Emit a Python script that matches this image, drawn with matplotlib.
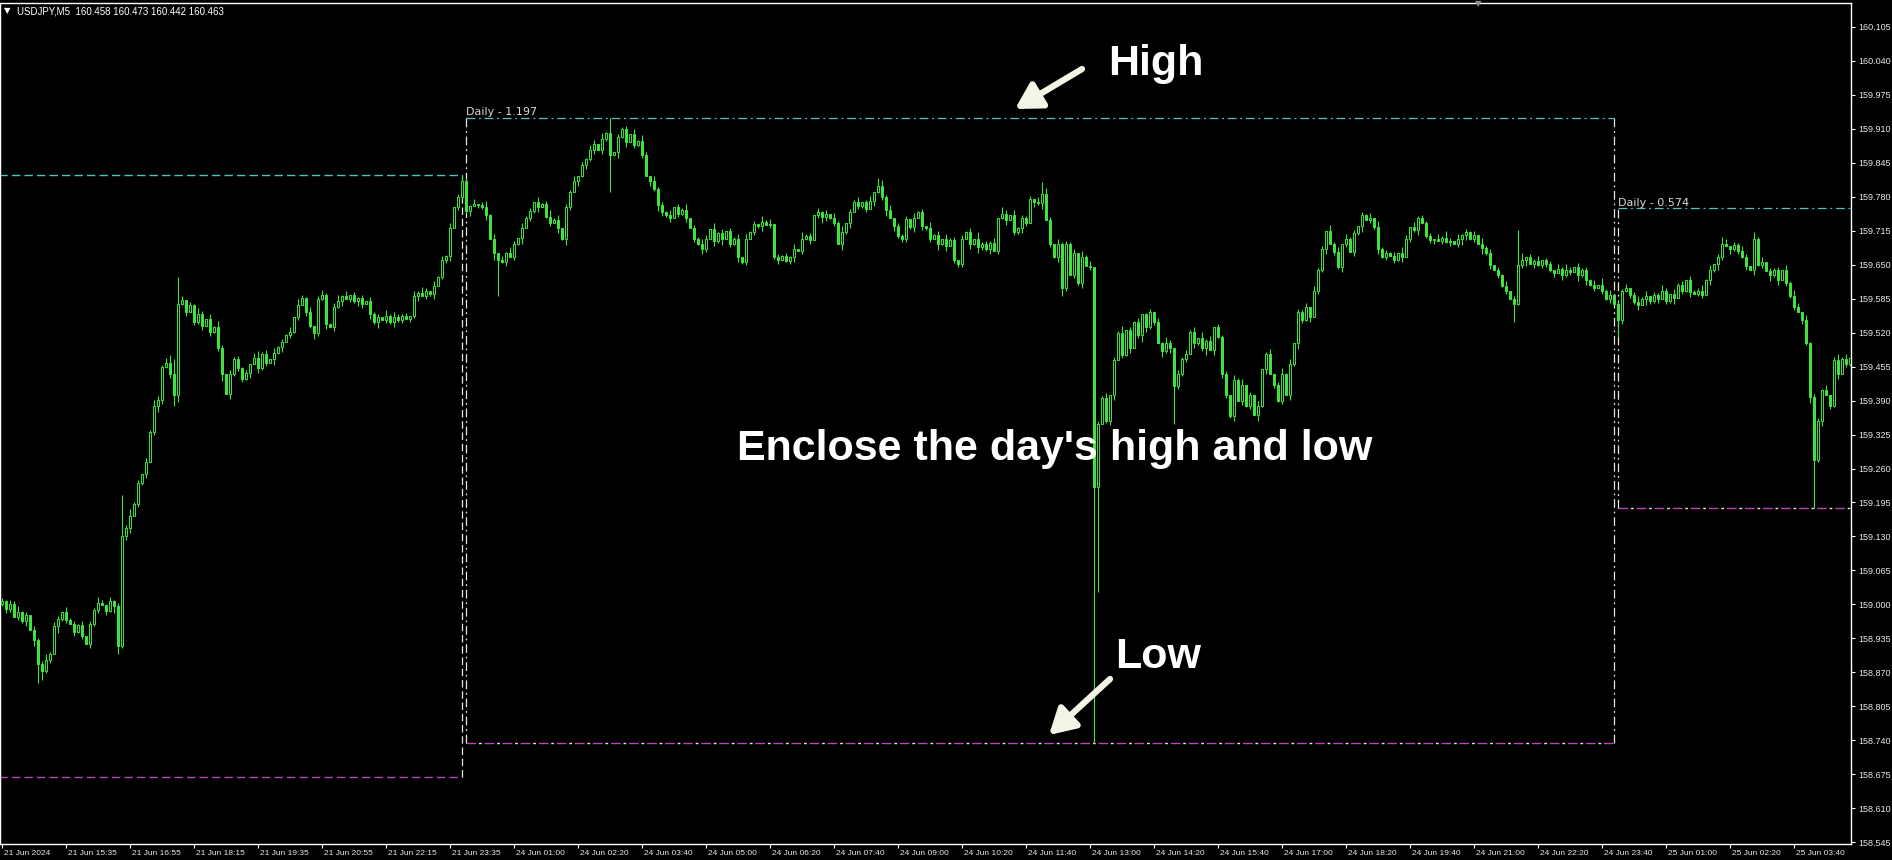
import numpy as np
import matplotlib
matplotlib.use("Agg")
import matplotlib.pyplot as plt
from matplotlib.transforms import ScaledTranslation

# 5-minute USDJPY closes (one value per bar)
close_21 = [
    159.006, 158.992, 159.000, 158.976, 158.985, 158.968, 158.980, 158.950, 158.932, 158.885,
    158.872, 158.893, 158.905, 158.958, 158.972, 158.986, 158.970, 158.962, 158.948, 158.960,
    158.940, 158.925, 158.962, 158.990, 159.002, 158.998, 158.988, 159.006, 158.996, 158.920,
    159.130, 159.146, 159.170, 159.192, 159.232, 159.250, 159.272, 159.330, 159.380, 159.392,
    159.455, 159.462, 159.440, 159.400, 159.575, 159.582, 159.560, 159.572, 159.540, 159.556,
    159.532, 159.546, 159.522, 159.530, 159.490, 159.440, 159.402, 159.440, 159.470, 159.452,
    159.432, 159.442, 159.460, 159.472, 159.452, 159.480, 159.462, 159.470, 159.482, 159.492,
    159.502, 159.515, 159.522, 159.550, 159.572, 159.586, 159.560, 159.532, 159.520, 159.585,
    159.592, 159.536, 159.530, 159.570, 159.580, 159.590, 159.584, 159.592, 159.580, 159.586,
    159.574, 159.580, 159.556, 159.540, 159.550, 159.545, 159.552, 159.540, 159.550, 159.544,
    159.552, 159.546, 159.552, 159.590, 159.596, 159.590, 159.600, 159.594, 159.610, 159.626,
    159.660, 159.666, 159.720, 159.760, 159.780, 159.810]
close_24 = [
    159.752, 159.762, 159.766, 159.764, 159.760, 159.745, 159.700, 159.672, 159.660, 159.656,
    159.672, 159.665, 159.690, 159.702, 159.720, 159.740, 159.752, 159.770, 159.760, 159.766,
    159.742, 159.730, 159.736, 159.720, 159.700, 159.760, 159.790, 159.810, 159.820, 159.840,
    159.852, 159.870, 159.882, 159.870, 159.890, 159.902, 159.860, 159.866, 159.895, 159.910,
    159.885, 159.900, 159.880, 159.886, 159.860, 159.820, 159.810, 159.795, 159.765, 159.750,
    159.745, 159.740, 159.760, 159.748, 159.755, 159.740, 159.720, 159.700, 159.690, 159.680,
    159.700, 159.718, 159.695, 159.710, 159.700, 159.715, 159.690, 159.700, 159.665, 159.655,
    159.700, 159.712, 159.728, 159.724, 159.732, 159.726, 159.728, 159.664, 159.660, 159.666,
    159.658, 159.664, 159.680, 159.676, 159.700, 159.705, 159.698, 159.745, 159.750, 159.742,
    159.748, 159.740, 159.730, 159.690, 159.712, 159.730, 159.750, 159.770, 159.762, 159.770,
    159.756, 159.772, 159.790, 159.800, 159.780, 159.755, 159.740, 159.724, 159.705, 159.700,
    159.738, 159.722, 159.740, 159.750, 159.725, 159.720, 159.700, 159.706, 159.690, 159.700,
    159.686, 159.698, 159.660, 159.652, 159.700, 159.712, 159.690, 159.700, 159.684, 159.690,
    159.680, 159.692, 159.676, 159.740, 159.748, 159.735, 159.745, 159.712, 159.720, 159.740,
    159.730, 159.775, 159.770, 159.768, 159.785, 159.735, 159.690, 159.665, 159.690, 159.605,
    159.690, 159.630, 159.672, 159.615, 159.665, 159.648, 159.645, 159.225, 159.345, 159.395,
    159.350, 159.400, 159.468, 159.520, 159.478, 159.525, 159.490, 159.540, 159.515, 159.555,
    159.530, 159.560, 159.540, 159.500, 159.485, 159.500, 159.490, 159.418, 159.440, 159.470,
    159.480, 159.522, 159.500, 159.510, 159.490, 159.505, 159.486, 159.530, 159.512, 159.440,
    159.400, 159.360, 159.430, 159.390, 159.420, 159.380, 159.400, 159.362, 159.380, 159.450,
    159.480, 159.440, 159.420, 159.390, 159.440, 159.400, 159.460, 159.500, 159.560, 159.545,
    159.570, 159.550, 159.600, 159.640, 159.680, 159.715, 159.690, 159.675, 159.645, 159.690,
    159.700, 159.675, 159.710, 159.725, 159.745, 159.735, 159.740, 159.722, 159.680, 159.665,
    159.672, 159.666, 159.660, 159.672, 159.664, 159.700, 159.722, 159.716, 159.740, 159.730,
    159.705, 159.698, 159.700, 159.695, 159.702, 159.694, 159.696, 159.690, 159.700, 159.706,
    159.712, 159.700, 159.706, 159.690, 159.682, 159.672, 159.650, 159.640, 159.630, 159.610,
    159.600, 159.585, 159.575, 159.650, 159.660, 159.664, 159.652, 159.658, 159.650, 159.660,
    159.652, 159.640, 159.635, 159.642, 159.630, 159.640, 159.636, 159.645, 159.630, 159.640,
    159.620, 159.612, 159.605, 159.612, 159.600, 159.585, 159.592, 159.575]
close_25 = [
    159.545, 159.600, 159.605, 159.592, 159.578, 159.572, 159.585, 159.590, 159.580, 159.592,
    159.585, 159.600, 159.580, 159.594, 159.586, 159.612, 159.600, 159.620, 159.598, 159.594,
    159.600, 159.592, 159.620, 159.640, 159.652, 159.665, 159.690, 159.685, 159.680, 159.688,
    159.676, 159.665, 159.648, 159.640, 159.700, 159.650, 159.655, 159.638, 159.630, 159.640,
    159.620, 159.640, 159.615, 159.590, 159.570, 159.560, 159.545, 159.500, 159.397, 159.276,
    159.350, 159.410, 159.400, 159.380, 159.468, 159.440, 159.470, 159.460, 159.472]
first_open = 159.000

# wick lengths per bar, in steps of 0.003
wick_up = ("2132412031 2413203121 3021420312 3241203142 1352130214 2031420312 1203412031 "
           "2130421302 3102413021 2031204132 1203142031 213024"
           "2130241302 1420312031 2413021302 1320413021 2031420312 1302140213 2041302130 "
           "3120413021 2130412031 2031402130 1302413021 2031204130 3120213041 2130420312 "
           "1203142031 2130413021 3021402130 1203142031 2130413021 2031402130 1302413021 "
           "2031204130 3120213041 2130420312 1203142031 2130413021 3021402130 1203142031 21304130"
           "2130241302 1420312031 2413021302 1320413021 2031420312 213024130")
wick_dn = ("1320213042 3120412031 2031203140 1230213024 3120413021 2031240312 2130312041 "
           "3021203142 1302130213 2031402131 2021302130 123021"
           "1302130421 3021402130 1203142031 2130312041 3021203142 1302130213 2031402131 "
           "2021302130 1230213024 3120413021 2031240312 2130312041 3021203142 1302130213 "
           "2031402131 2021302130 1230213024 3120413021 2031240312 2130312041 3021203142 "
           "1302130213 2031402131 2021302130 1230213024 3120413021 2031240312 2130312041 31202130"
           "1302130421 3021402130 1203142031 2130312041 3021203142 130213021")

# bars whose extremes stand out on the chart
high_fix = {30: 159.210, 43: 159.470, 44: 159.627, 115: 159.822, 152: 159.931,
            219: 159.816, 260: 159.808, 379: 159.716, 430: 159.703}
low_fix = {9: 158.850, 10: 158.855, 29: 158.905, 43: 159.380, 124: 159.590,
           152: 159.790, 239: 159.646, 265: 159.590, 273: 158.734, 274: 159.024,
           293: 159.345, 378: 159.540, 404: 159.512, 453: 159.184}

# daily boxes (D1 high / low)
day_start = [-10, 116, 404]
day_end = [115, 403, 470]
day_high = [159.822, 159.931, 159.758]
day_low = [158.670, 158.734, 159.184]

x_labels = ["21 Jun 2024", "21 Jun 15:35", "21 Jun 16:55", "21 Jun 18:15", "21 Jun 19:35",
            "21 Jun 20:55", "21 Jun 22:15", "21 Jun 23:35", "24 Jun 01:00", "24 Jun 02:20",
            "24 Jun 03:40", "24 Jun 05:00", "24 Jun 06:20", "24 Jun 07:40", "24 Jun 09:00",
            "24 Jun 10:20", "24 Jun 11:40", "24 Jun 13:00", "24 Jun 14:20", "24 Jun 15:40",
            "24 Jun 17:00", "24 Jun 18:20", "24 Jun 19:40", "24 Jun 21:00", "24 Jun 22:20",
            "24 Jun 23:40", "25 Jun 01:00", "25 Jun 02:20", "25 Jun 03:40"]
y_ticks = [160.105 - 0.065 * k for k in range(25)]

closes = np.array(close_21 + close_24 + close_25)
up = np.array([int(c) for c in wick_up.replace(" ", "")]) * 0.003
dn = np.array([int(c) for c in wick_dn.replace(" ", "")]) * 0.003
if not (len(closes) == len(up) == len(dn) == 463):
    raise ValueError("lengths %d %d %d" % (len(closes), len(up), len(dn)))
opens = np.r_[first_open, closes[:-1]]
highs = np.maximum(opens, closes) + up
lows = np.minimum(opens, closes) - dn
for i, v in high_fix.items():
    highs[i] = v
for i, v in low_fix.items():
    lows[i] = v
xs = np.arange(len(closes))

W, H = 1892, 860
fig = plt.figure(figsize=(W / 100, H / 100), dpi=100, facecolor="black")
ax = fig.add_axes([0, 16 / H, 1851 / W, 841 / H], facecolor="black")
ax.set_xlim(-0.5, -0.5 + 1851 / 4)
ax.set_ylim(160.105 - 817 / 522.5, 160.105 + 24 / 522.5)

lime = "#3fe63f"
cyan = "#4cc4c4"
mag = "#c040c0"
side = "#e6e6dc"
dashdot = (0, (7, 3, 1.5, 3))
small = "Liberation Sans"

# candles
ax.vlines(xs, lows, highs, color=lime, lw=0.8, zorder=3)
bull = closes >= opens
body = np.maximum(np.abs(closes - opens), 0.0006)
ax.bar(xs, body, bottom=np.minimum(opens, closes), width=0.68,
       color=np.where(bull, "black", lime), edgecolor=lime, linewidth=0.7, zorder=4)

# daily boxes
for k in range(3):
    x0, x1 = day_start[k], day_end[k]
    hi, lo = day_high[k], day_low[k]
    if k == 0:
        ax.plot([x0, x1], [hi, hi], color=cyan, lw=1.0, ls=(0, (6, 3)), zorder=2)
        ax.plot([x0, x1], [lo, lo], color=mag, lw=1.0, ls=(0, (6, 3)), zorder=2)
        ax.plot([x1, x1], [lo, hi], color=side, lw=0.9, ls=(0, (6, 3)), zorder=2)
        continue
    ax.plot([x0, x1], [hi, hi], color=cyan, lw=0.9, ls=dashdot, zorder=2)
    ax.plot([x0, x1], [lo, lo], color=mag, lw=1.0, ls=(0, (7, 6)), zorder=2)
    ax.plot([x0, x1], [lo, lo], color=side, lw=1.0, ls=(-9, (2, 11)), zorder=2)
    ax.plot([x0, x0], [lo, hi], color=side, lw=0.9, ls=dashdot, zorder=2)
    if x1 < 462:
        ax.plot([x1, x1], [lo, hi], color=side, lw=0.9, ls=dashdot, zorder=2)
    ax.annotate("Daily - %.3f" % (hi - lo), (x0, hi), xytext=(0, 2), textcoords="offset points",
                color="#d8d8d8", fontsize=8, family="DejaVu Sans", va="baseline", ha="left")

# axes look
for s in ax.spines.values():
    s.set_color("white")
    s.set_linewidth(1.0)
ax.yaxis.tick_right()
ax.set_yticks(y_ticks)
ax.set_yticklabels(["%.3f" % v for v in y_ticks], fontsize=6.5)
ax.set_xticks(np.arange(len(x_labels)) * 16)
ax.set_xticklabels(x_labels, ha="left", fontsize=6)
ax.tick_params(colors="white", length=3, width=0.8, pad=2)
ax.tick_params(axis="x", pad=1.5)
shift = ScaledTranslation(2 / 100, 0, fig.dpi_scale_trans)
for lab in ax.get_xticklabels() + ax.get_yticklabels():
    lab.set_family(small)
    lab.set_color("#e8e8e8")
for lab in ax.get_xticklabels():
    lab.set_transform(lab.get_transform() + shift)

# header and shift marker
fig.text(4 / W, 1 - 11 / H, "\u25bc", color="white", fontsize=6, family="DejaVu Sans", va="center")
fig.text(17 / W, 1 - 11 / H, "USDJPY,M5  160.458 160.473 160.442 160.463", color="white",
         fontsize=7, family=small, va="center")
fig.text(1478 / W, 1 - 4 / H, "\u25bc", color="#909090", fontsize=6, family="DejaVu Sans",
         va="center", ha="center")

# annotations
big = dict(color="white", fontsize=31, fontweight="bold", family="Liberation Sans", va="baseline")
fig.text(1108 / W, 1 - 75 / H, "High", **big)
fig.text(1115 / W, 1 - 668 / H, "Low", **big)
fig.text(737 / W, 1 - 460 / H, "Enclose the day's high and low", **big)
arr = dict(arrowstyle="-|>,head_length=0.7,head_width=0.4", lw=4.5, color="#f4f4e6",
           mutation_scale=22, shrinkA=0, shrinkB=0)
fig.add_artist(plt.Annotation("", xy=(1015, H - 109), xytext=(1082, H - 69),
                              xycoords="figure pixels", textcoords="figure pixels", arrowprops=arr))
fig.add_artist(plt.Annotation("", xy=(1049, H - 735), xytext=(1110, H - 679),
                              xycoords="figure pixels", textcoords="figure pixels", arrowprops=arr))

fig.savefig("out.png", dpi=100, facecolor="black")
